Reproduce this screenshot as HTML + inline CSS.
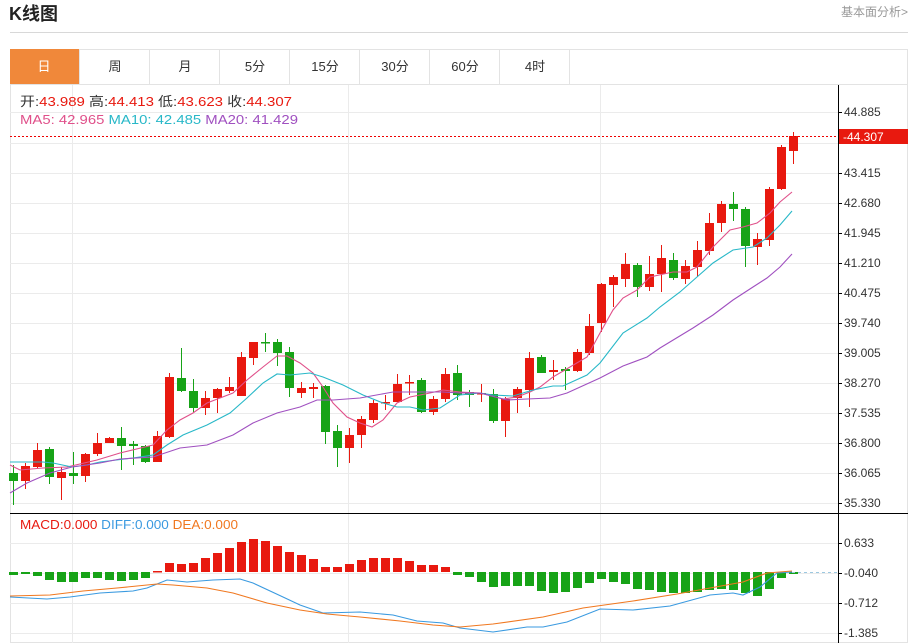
<!DOCTYPE html>
<html><head><meta charset="utf-8"><style>
body{margin:0;width:913px;height:643px;overflow:hidden;background:#fff;font-family:"Liberation Sans","Noto Sans CJK SC",sans-serif}
svg{position:absolute;left:0;top:0}
</style></head><body>
<svg id="s" width="913" height="643" xmlns="http://www.w3.org/2000/svg" font-family="Liberation Sans, Noto Sans CJK SC, sans-serif">
<text x="9" y="20" font-size="18" font-weight="bold" fill="#222">K线图</text>
<text x="908" y="16" font-size="12" fill="#999" text-anchor="end">基本面分析&gt;</text>
<line x1="10" y1="32.5" x2="908" y2="32.5" stroke="#d8d8d8"/>
<rect x="10.5" y="49.5" width="897" height="593" fill="none" stroke="#e3e3e3"/>
<line x1="10" y1="84.5" x2="908" y2="84.5" stroke="#e3e3e3"/>
<rect x="10" y="49" width="69" height="35" fill="#f0883a"/>
<g font-size="13" fill="#333" text-anchor="middle">
<text x="44" y="71" fill="#fff">日</text><text x="115" y="71">周</text><text x="185" y="71">月</text><text x="255" y="71">5分</text><text x="325" y="71">15分</text><text x="395" y="71">30分</text><text x="465" y="71">60分</text><text x="535" y="71">4时</text>
</g>
<g stroke="#e3e3e3"><line x1="79.5" y1="49" x2="79.5" y2="84"/><line x1="149.5" y1="49" x2="149.5" y2="84"/><line x1="219.5" y1="49" x2="219.5" y2="84"/><line x1="289.5" y1="49" x2="289.5" y2="84"/><line x1="359.5" y1="49" x2="359.5" y2="84"/><line x1="429.5" y1="49" x2="429.5" y2="84"/><line x1="499.5" y1="49" x2="499.5" y2="84"/><line x1="569.5" y1="49" x2="569.5" y2="84"/></g>
<g id="grid" stroke="#ebebeb"></g>
<g id="c"></g>
<line x1="10" y1="513.5" x2="908" y2="513.5" stroke="#000"/>
<line x1="838.5" y1="85" x2="838.5" y2="643" stroke="#000"/>
<line x1="10" y1="136.5" x2="838" y2="136.5" stroke="#e00" stroke-dasharray="2,2"/>
<line x1="792" y1="572.5" x2="838" y2="572.5" stroke="#9cc8e0" stroke-dasharray="3,3"/>
<g id="ax" font-size="12" fill="#333"></g>
<rect x="839" y="129" width="69" height="15" fill="#e8190f"/>
<text x="843" y="141" font-size="12" fill="#fff">-44.307</text>
<text x="20" y="106" font-size="13" textLength="272" lengthAdjust="spacingAndGlyphs"><tspan fill="#333">开:</tspan><tspan fill="#e8190f">43.989 </tspan><tspan fill="#333"> 高:</tspan><tspan fill="#e8190f">44.413 </tspan><tspan fill="#333"> 低:</tspan><tspan fill="#e8190f">43.623 </tspan><tspan fill="#333"> 收:</tspan><tspan fill="#e8190f">44.307</tspan></text>
<text x="20" y="124" font-size="13" textLength="278" lengthAdjust="spacingAndGlyphs"><tspan fill="#e0508a">MA5: 42.965 </tspan><tspan fill="#28b8c8">  MA10: 42.485 </tspan><tspan fill="#a050c0">  MA20: 41.429</tspan></text>
<text x="20" y="529" font-size="13" textLength="218" lengthAdjust="spacingAndGlyphs"><tspan fill="#e8190f">MACD:0.000 </tspan><tspan fill="#3a9ae0">   DIFF:0.000 </tspan><tspan fill="#f07820">   DEA:0.000</tspan></text>
</svg>
<script>
var NS="http://www.w3.org/2000/svg";
function el(p,t,a){var e=document.createElementNS(NS,t);for(var k in a)e.setAttribute(k,a[k]);document.getElementById(p).appendChild(e);return e;}
var labs=[["44.885",112],["44.150",143],["43.415",173],["42.680",203],["41.945",233],["41.210",263],["40.475",293],["39.740",323],["39.005",353],["38.270",383],["37.535",413],["36.800",443],["36.065",473],["35.330",503],["0.633",543],["-0.040",573],["-0.712",603],["-1.385",633]];
labs.forEach(function(l){el("grid","line",{x1:10,x2:838,y1:l[1]+.5,y2:l[1]+.5});
 if(l[0]!="44.150"){el("ax","line",{x1:838,x2:842,y1:l[1]+.5,y2:l[1]+.5,stroke:"#000"});var t=el("ax","text",{x:844,y:l[1]+4});t.textContent=l[0];}});
[72,348,600].forEach(function(x){el("grid","line",{x1:x+.5,x2:x+.5,y1:85,y2:643});});
var K=[["G",473,481,465,505],["R",466,481,463,489],["R",450,467,443,468],["G",449,477,447,484],["R",472,478,467,500],["G",473,476,452,484],["R",454,476,453,482],["R",443,454,433,456],["R",438,443,437,443],["G",438,446,427,470],["G",444,446,441,465],["G",446,462,445,463],["R",436,462,431,462],["R",377,437,373,438],["G",378,391,348,392],["G",391,408,379,412],["R",398,408,391,415],["R",389,398,388,413],["R",387,391,377,393],["R",357,396,352,396],["R",342,358,342,365],["G",342,343,333,352],["G",342,353,339,366],["G",352,388,347,397],["R",388,393,382,398],["R",387,389,383,398],["G",386,432,385,444],["G",431,448,425,467],["R",435,448,428,463],["R",419,435,416,448],["R",403,420,400,423],["R",402,403,395,410],["R",384,402,374,402],["R",382,383,375,395],["G",380,412,378,413],["R",399,412,396,415],["R",374,399,368,402],["G",373,395,365,400],
["G",392,395,390,407],["R",393,394,384,402],["G",394,421,389,423],["R",399,421,397,437],["R",389,398,387,413],["R",358,390,352,407],["G",357,373,355,373],["R",370,372,360,380],["G",369,371,367,390],["R",352,371,349,372],["R",326,353,314,355],["R",284,323,283,332],["R",277,285,275,307],["R",264,279,253,287],["G",265,287,263,297],["R",274,287,256,291],["R",258,274,245,292],["G",260,278,253,280],["R",266,279,260,284],["R",250,267,241,277],["R",223,251,213,255],["R",204,223,201,232],["G",204,209,192,221],["G",209,246,207,267],["R",239,247,233,265],["R",189,240,187,246],["R",147,189,145,190],["R",136,151,132,164]];
var M=[575,574,576,580,582,582,578,578,580,581,580,578,571,563,564,563,558,553,548,542,539,541,546,552,555,559,567,567,564,560,558,558,558,561,565,565,567,575,577,582,587,586,586,586,591,593,592,588,583,579,582,584,589,590,592,593,593,592,590,589,590,593,596,589,578,574];
K.forEach(function(k,i){var x=13+12*i,c=k[0]=="R"?"#e8190f":"#17a317";
 el("c","line",{x1:x+.5,x2:x+.5,y1:k[3],y2:k[4],stroke:c});
 el("c","rect",{x:x-4,y:k[1],width:9,height:Math.max(1.5,k[2]-k[1]),fill:c});
 var m=M[i],mc=m<572?"#e8190f":"#17a317";
 el("c","rect",{x:x-4,y:Math.min(m,572),width:9,height:Math.max(1.5,Math.abs(m-572)),fill:mc});
});
function pl(pts,c){el("c","polyline",{points:pts,fill:"none",stroke:c,"stroke-width":1.1});}
pl("10,465 20,470 43,468 67,467 97,460 120,453 153,445 167,430 180,420 193,413 207,403 233,393 247,380 263,367 277,356 287,356 300,363 313,373 323,387 333,403 347,417 360,423 372,427 383,420 397,403 410,397 430,393 443,390 460,392 480,393 503,399 517,397 530,392 540,387 553,377 587,357 600,333 613,310 623,298 637,290 650,277 673,272 687,272 697,267 713,247 730,230 743,227 757,223 770,213 780,202 792,192","#e0508a");
pl("10,462 43,462 53,463 72,467 87,465 100,462 133,458 153,455 167,445 183,435 207,425 230,413 247,398 263,383 277,374 290,375 310,373 323,377 343,385 363,395 383,403 397,407 410,407 423,410 440,408 460,395 480,393 493,395 513,396 533,390 553,386 563,386 587,375 600,363 623,333 647,318 660,307 680,292 697,277 713,263 733,250 753,247 767,238 780,225 792,211","#28b8c8");
pl("10,493 27,483 50,473 72,467 100,463 120,459 153,457 180,448 207,445 233,435 253,423 277,413 300,407 317,400 333,400 360,398 393,392 417,392 443,392 460,393 480,393 507,400 527,399 550,398 567,393 600,378 623,366 647,357 660,348 693,328 713,315 733,300 753,287 767,278 780,267 792,254","#a050c0");
pl("10,597 47,599 70,597 100,593 133,591 147,588 167,580 187,582 213,580 240,579 253,583 283,597 300,605 323,613 360,612 393,615 417,621 443,623 460,628 493,632 527,627 543,627 567,622 600,609 633,610 670,606 710,595 733,593 743,595 760,587 777,573 792,572","#3a9ae0");
pl("10,596 50,595 83,591 117,588 157,584 173,585 207,588 233,593 267,603 300,610 327,614 360,617 400,621 433,625 460,627 493,624 543,617 583,608 633,601 677,594 710,588 743,582 767,573 792,571","#f07820");
</script>
</body></html>
